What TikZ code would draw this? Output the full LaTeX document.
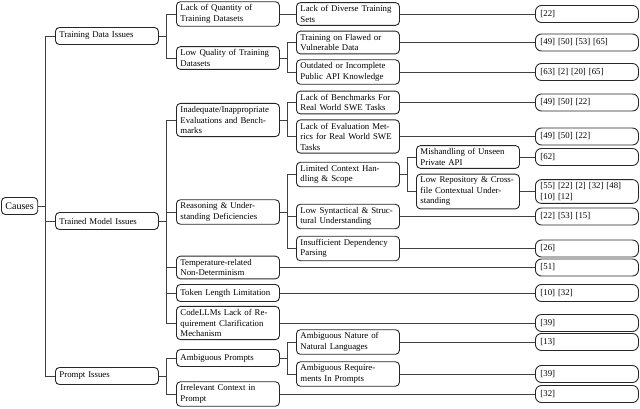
\documentclass[tikz,border=0pt]{standalone}
\usepackage{fontspec}
\setmainfont{Liberation Serif}
\begin{document}
\begin{tikzpicture}[x=1pt,y=-1pt,every node/.style={font=\fontsize{8.8}{10.5}\selectfont},
  box/.style={draw=black!85,line width=0.9pt,rounded corners=4pt,anchor=west,align=left,text width=95pt,inner xsep=4pt,inner ysep=3pt,minimum height=17pt},
  refbox/.style={box,rounded corners=6pt,text width=93pt,inner xsep=5pt},
  rootbox/.style={box,text width=,inner xsep=4pt,font=\fontsize{10}{12}\selectfont},
  link/.style={draw=black!75,line width=0.8pt}]
\useasboundingbox (0,0) rectangle (640,409);
% Causes tree
\node[rootbox] (causes) at (1,206) {Causes};
\node[box] (data) at (55,36) {Training Data Issues};
\node[box] (model) at (55,221) {Trained Model Issues};
\node[box] (prompt) at (55,376) {Prompt Issues};
% second level
\node[box] (quantity) at (176,14) {Lack of Quantity of\\Training Datasets};
\node[box] (quality) at (176,58) {Low Quality of Training\\Datasets};
\node[box] (evals) at (176,120) {Inadequate/Inappropriate\\Evaluations and Bench-\\marks};
\node[box] (reasoning) at (176,212) {Reasoning \& Under-\\standing Deficiencies};
\node[box] (temperature) at (176,267.5) {Temperature-related\\Non-Determinism};
\node[box] (token) at (176,293) {Token Length Limitation};
\node[box] (clarify) at (176,323) {CodeLLMs Lack of Re-\\quirement Clarification\\Mechanism};
\node[box] (ambprompts) at (176,358) {Ambiguous Prompts};
\node[box] (irrelevant) at (176,394) {Irrelevant Context in\\Prompt};
% third level
\node[box] (diverse) at (296,14) {Lack of Diverse Training\\Sets};
\node[box] (flawed) at (296,42.5) {Training on Flawed or\\Vulnerable Data};
\node[box] (outdated) at (296,72) {Outdated or Incomplete\\Public API Knowledge};
\node[box] (benchmarks) at (296,102.5) {Lack of Benchmarks For\\Real World SWE Tasks};
\node[box] (metrics) at (296,136.5) {Lack of Evaluation Met-\\rics for Real World SWE\\Tasks};
\node[box] (context) at (296,174.5) {Limited Context Han-\\dling \& Scope};
\node[box] (syntax) at (296,216.5) {Low Syntactical \& Struc-\\tural Understanding};
\node[box] (dependency) at (296,248.5) {Insufficient Dependency\\Parsing};
\node[box] (natural) at (296,342) {Ambiguous Nature of\\Natural Languages};
\node[box] (requirements) at (296,374) {Ambiguous Require-\\ments In Prompts};
% fourth level
\node[box] (private) at (416,157) {Mishandling of Unseen\\Private API};
\node[box] (crossfile) at (416,191.5) {Low Repository \& Cross-\\file Contextual Under-\\standing};
% references
\node[refbox] (rdiverse) at (535,14) {[22]};
\node[refbox] (rflawed) at (535,42.5) {[49] [50] [53] [65]};
\node[refbox] (routdated) at (535,72) {[63] [2] [20] [65]};
\node[refbox] (rbenchmarks) at (535,102.5) {[49] [50] [22]};
\node[refbox] (rmetrics) at (535,136.5) {[49] [50] [22]};
\node[refbox] (rprivate) at (535,157) {[62]};
\node[refbox] (rcrossfile) at (535,191.5) {[55] [22] [2] [32] [48]\\{}[10] [12]};
\node[refbox] (rsyntax) at (535,216.5) {[22] [53] [15]};
\node[refbox] (rdependency) at (535,248.5) {[26]};
\node[refbox] (rtemperature) at (535,267.5) {[51]};
\node[refbox] (rtoken) at (535,293) {[10] [32]};
\node[refbox] (rclarify) at (535,323) {[39]};
\node[refbox] (rnatural) at (535,342) {[13]};
\node[refbox] (rrequirements) at (535,374) {[39]};
\node[refbox] (rirrelevant) at (535,394) {[32]};
% forks
\foreach \c in {data,model,prompt} \draw[link] (causes.east) -- ++(7,0) |- (\c.west);
\foreach \c in {quantity,quality} \draw[link] (data.east) -- ++(7,0) |- (\c.west);
\foreach \c in {evals,reasoning,temperature,token,clarify} \draw[link] (model.east) -- ++(7,0) |- (\c.west);
\foreach \c in {ambprompts,irrelevant} \draw[link] (prompt.east) -- ++(7,0) |- (\c.west);
\foreach \c in {flawed,outdated} \draw[link] (quality.east) -- ++(7,0) |- (\c.west);
\foreach \c in {benchmarks,metrics} \draw[link] (evals.east) -- ++(7,0) |- (\c.west);
\foreach \c in {context,syntax,dependency} \draw[link] (reasoning.east) -- ++(7,0) |- (\c.west);
\foreach \c in {natural,requirements} \draw[link] (ambprompts.east) -- ++(7,0) |- (\c.west);
\foreach \c in {private,crossfile} \draw[link] (context.east) -- ++(7,0) |- (\c.west);
% straight links
\draw[link] (quantity) -- (diverse);
\foreach \a in {diverse,flawed,outdated,benchmarks,metrics,private,crossfile,syntax,dependency,temperature,token,clarify,natural,requirements,irrelevant}
  \draw[link] (\a) -- (r\a);
\end{tikzpicture}
\end{document}
